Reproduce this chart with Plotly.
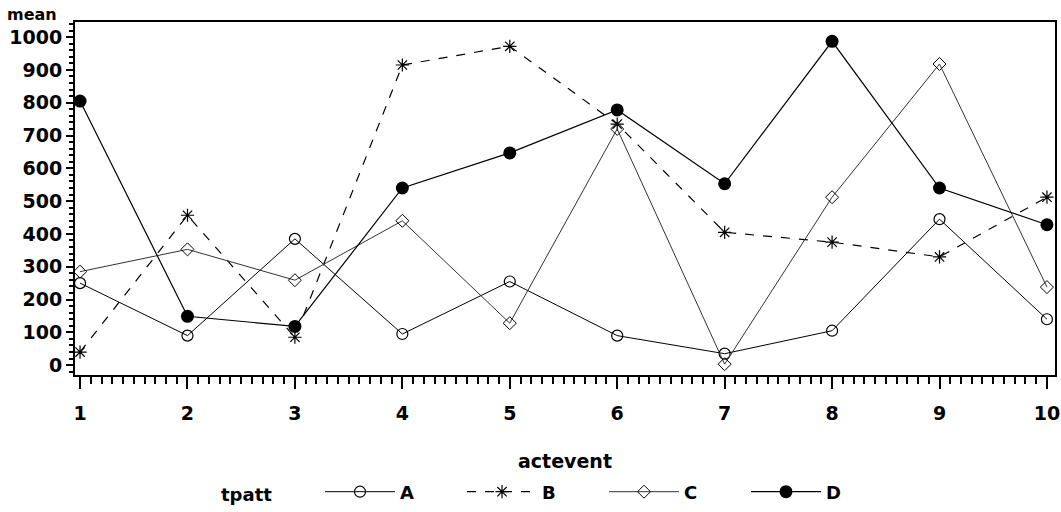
import plotly.graph_objects as go

actevent = [1, 2, 3, 4, 5, 6, 7, 8, 9, 10]
mean_A = [250, 90, 385, 95, 255, 90, 35, 105, 445, 140]
mean_B = [40, 457, 85, 915, 972, 735, 405, 375, 330, 512]
mean_C = [285, 353, 259, 440, 128, 720, 3, 512, 918, 238]
mean_D = [805, 149, 118, 540, 647, 778, 553, 987, 540, 428]

y_ticks = [0, 100, 200, 300, 400, 500, 600, 700, 800, 900, 1000]

FONT = "DejaVu Sans"

fig = go.Figure()

fig.add_trace(go.Scatter(
    x=actevent, y=mean_A, name="A", mode="lines+markers",
    line=dict(color="black", width=1),
    marker=dict(symbol="circle-open", size=11, color="black", line=dict(width=1.2)),
))
fig.add_trace(go.Scatter(
    x=actevent, y=mean_B, name="B", mode="lines+markers",
    line=dict(color="black", width=1.2, dash="dash"),
    marker=dict(symbol="asterisk-open", size=11, color="black", line=dict(width=1.2)),
))
fig.add_trace(go.Scatter(
    x=actevent, y=mean_C, name="C", mode="lines+markers",
    line=dict(color="#333333", width=1),
    marker=dict(symbol="diamond-open", size=10, color="black", line=dict(width=1)),
))
fig.add_trace(go.Scatter(
    x=actevent, y=mean_D, name="D", mode="lines+markers",
    line=dict(color="black", width=1.2),
    marker=dict(symbol="circle", size=13, color="black"),
))

fig.update_layout(
    width=1061, height=512,
    margin=dict(l=75, r=6, t=22, b=137, autoexpand=False),
    paper_bgcolor="white", plot_bgcolor="white",
    font=dict(family=FONT, size=16, color="black", weight="bold"),
    showlegend=True,
    legend=dict(
        orientation="h", xref="container", yref="container",
        x=320 / 1061, y=20 / 512, xanchor="left", yanchor="middle",
        font=dict(size=18, weight="bold"),
        entrywidth=57, itemwidth=70,
        bgcolor="rgba(0,0,0,0)",
    ),
    xaxis=dict(
        range=[0.953, 10.075],
        tickmode="array", tickvals=actevent, ticktext=[str(v) for v in actevent],
        ticks="outside", ticklen=12, tickwidth=2, tickcolor="black",
        ticklabelstandoff=8,
        showline=True, linecolor="black", linewidth=2, mirror=True,
        showgrid=False, zeroline=False,
        minor=dict(dtick=0.1, tick0=1, ticks="outside", ticklen=7, tickwidth=1.5, tickcolor="black", showgrid=False),
        title=dict(text="actevent", standoff=32, font=dict(size=19, weight="bold")),
        tickfont=dict(size=19, weight="bold"),
    ),
    yaxis=dict(
        range=[-30, 1046],
        tickmode="array", tickvals=y_ticks, ticktext=[str(v) for v in y_ticks],
        ticks="outside", ticklen=7, tickwidth=2, tickcolor="black",
        showline=True, linecolor="black", linewidth=2, mirror=True,
        showgrid=False, zeroline=False,
        minor=dict(dtick=20, tick0=0, ticks="outside", ticklen=4, tickwidth=1.5, tickcolor="black", showgrid=False),
        tickfont=dict(size=19, weight="bold"),
    ),
    annotations=[
        dict(
            text="mean", xref="paper", yref="paper", x=-0.071, y=1.055,
            xanchor="left", yanchor="top", showarrow=False,
            font=dict(size=16, weight="bold"),
        ),
        dict(
            text="tpatt", xref="paper", yref="paper", x=(219 - 75) / 980, y=(375 - 494) / 353,
            xanchor="left", yanchor="middle", showarrow=False,
            font=dict(size=18, weight="bold"),
        ),
    ],
)

fig.write_html(
    "out.html",
    config={"displayModeBar": False},
    post_script="document.body.style.margin='0px';document.body.style.overflow='hidden';",
)
